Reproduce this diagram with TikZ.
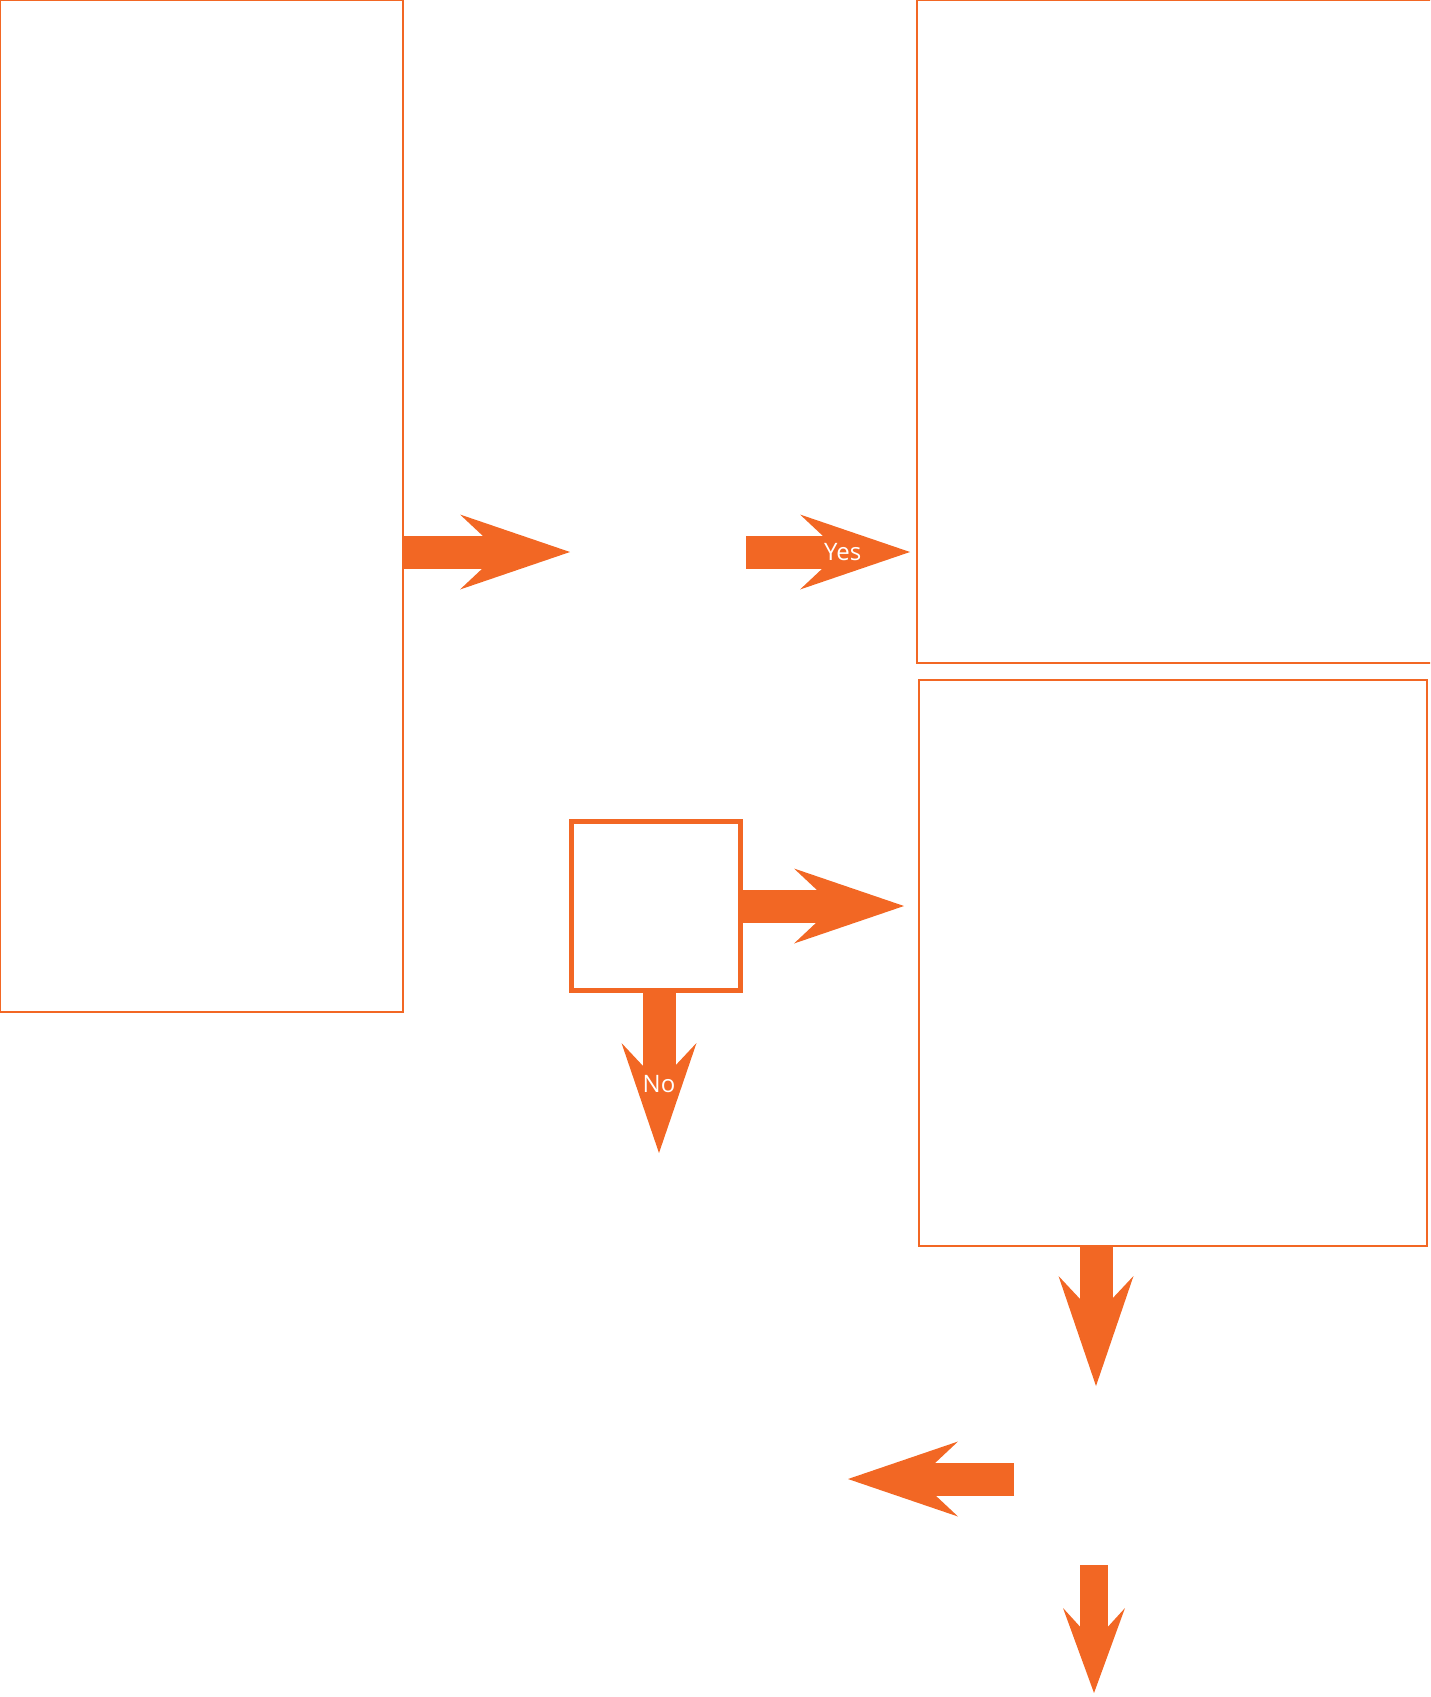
\documentclass[tikz,border=0pt]{standalone}
\usepackage{fontspec}
\setsansfont{Open Sans}
\usetikzlibrary{positioning, arrows.meta, calc}
\definecolor{flow}{HTML}{F26724}

\begin{document}
\begin{tikzpicture}[
    x=0.5pt, y=-0.5pt,
    font=\sffamily,
    panel/.style={draw=flow, line width=1pt, fill=white, inner sep=0pt},
    check/.style={draw=flow, line width=2.5pt, fill=white, inner sep=0pt,
                  minimum width=84.5pt, minimum height=84.5pt},
    fat/.style={draw=flow, line width=16.5pt,
                -{Stealth[length=55pt, width=37.5pt, inset=20pt, line width=0pt]}},
    slim/.style={draw=flow, line width=14pt,
                 -{Stealth[length=42.5pt, width=31pt, inset=17pt, line width=0pt]}},
    lbl/.style={text=white, font=\sffamily\fontsize{12}{12}\selectfont, inner sep=0pt},
]
\useasboundingbox (0,0) rectangle (1430,1697);
\clip (0,0) rectangle (1430,1697);

% ── panels ───────────────────────────────────────────────────────────────────
\node[panel, minimum width=201.5pt, minimum height=506pt] (intake) at (201.5,506) {};
\node[panel, minimum width=264pt, minimum height=331.5pt] (accept) at (1181,331.5) {};
\node[panel, minimum width=254pt, minimum height=283pt] (review) at (1173,963) {};
\node[check] (gate) at (656,906) {};

% ── free ends ────────────────────────────────────────────────────────────────
\coordinate (ask-in)   at (570,552);
\coordinate (ask-out)  at (746,552);
\coordinate (no-end)   at (659,1153);
\coordinate (rev-end)  at (1096,1386);
\coordinate (back-beg) at (1014,1479);
\coordinate (back-end) at (848,1479);
\coordinate (last-beg) at (1094,1565);
\coordinate (last-end) at (1094,1693);

% ── edges ────────────────────────────────────────────────────────────────────
\draw[fat] (intake.east |- ask-in) -- (ask-in);
\draw[fat] (ask-out) -- ([xshift=-3pt]accept.west |- ask-out)
    node[lbl, pos=0.59] {Yes};
\draw[fat] (gate.east) -- ([xshift=-7pt]review.west |- gate.east);
\draw[fat] (gate.south -| no-end) -- (no-end) node[lbl, pos=0.57] {No};
\draw[fat] (review.south -| rev-end) -- (rev-end);
\draw[fat] (back-beg) -- (back-end);
\draw[slim] (last-beg) -- (last-end);

\end{tikzpicture}
\end{document}
